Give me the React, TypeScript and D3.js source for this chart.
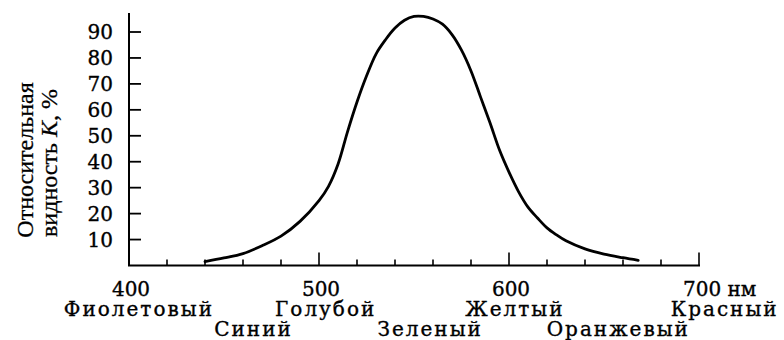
import React from "react";
import * as d3 from "d3";

const wavelengths = [440, 450, 460, 470, 480, 490, 500, 505, 510, 515, 520, 525, 530, 535, 540, 545, 550, 555, 560, 565, 570, 575, 580, 585, 590, 595, 600, 605, 610, 615, 620, 625, 630, 640, 650, 660, 668];
const visibility = [1.5, 2.9, 4.6, 7.6, 11.3, 17, 25, 30.5, 39, 51.5, 63, 73, 81.5, 87, 91.5, 94.5, 96, 96, 95, 93, 89, 83, 75, 65, 55, 44.5, 36, 28.5, 22.5, 18.3, 14.5, 11.8, 9.5, 6.4, 4.4, 3, 2];

const yTicks = [10, 20, 30, 40, 50, 60, 70, 80, 90];
const xMinorTicks = [420, 440, 460, 480, 520, 540, 560, 580, 620, 640, 660, 680];
const xMajorTicks = [500, 600, 700];
const xTickLabels = ["400", "500", "600", "700 нм"];
const xTickLabelValues = [400, 500, 600, 700];

const colorRow1 = ["Фиолетовый", "Голубой", "Желтый", "Красный"];
const colorRow1At = [404.7, 503, 602.6, 713];
const colorRow2 = ["Синий", "Зеленый", "Оранжевый"];
const colorRow2At = [465, 558, 657];

const FONT = "'DejaVu Serif', 'Liberation Serif', serif";
const TFONT = "'Liberation Serif', 'Times New Roman', serif";

export default function App() {
  const x = d3.scaleLinear().domain([400, 700]).range([129, 699]);
  const y = d3.scaleLinear().domain([0, 90]).range([265.5, 32]);
  const pts = wavelengths.map((w, i) => [w, visibility[i]] as [number, number]);
  const line = d3
    .line<[number, number]>()
    .x((d) => x(d[0]))
    .y((d) => y(d[1]))
    .curve(d3.curveCatmullRom.alpha(0.5));

  const txt = { fontFamily: FONT, fontSize: 20, fill: "#000", stroke: "#000", strokeWidth: 0.35 } as const;

  return (
    <div style={{ position: "fixed", left: 0, top: 0 }}>
      <svg width={784} height={340} style={{ display: "block", background: "#fff" }}>
        <line x1={x(400)} y1={y(0)} x2={x(400)} y2={13} stroke="#000" strokeWidth={2} />
        <line x1={x(400) - 1} y1={y(0)} x2={x(700) + 1} y2={y(0)} stroke="#000" strokeWidth={2} />
        {yTicks.map((t) => (
          <g key={"yt" + t}>
            <line x1={x(400)} x2={x(400) + 12} y1={y(t)} y2={y(t)} stroke="#000" strokeWidth={1.8} />
            <text x={113} y={y(t)} dy="0.36em" textAnchor="end" {...txt}>
              {t}
            </text>
          </g>
        ))}
        {xMinorTicks.map((t) => (
          <line key={"xm" + t} x1={x(t)} x2={x(t)} y1={y(0)} y2={y(0) - 6} stroke="#000" strokeWidth={1.6} />
        ))}
        {xMajorTicks.map((t) => (
          <line key={"xM" + t} x1={x(t)} x2={x(t)} y1={y(0)} y2={y(0) - 13} stroke="#000" strokeWidth={1.6} />
        ))}
        {xTickLabels.map((s, i) =>
          i === xTickLabels.length - 1 ? (
            <text key={s} x={x(xTickLabelValues[i]) - 16} y={296} textAnchor="start" {...txt}>
              {s}
            </text>
          ) : (
            <text key={s} x={x(xTickLabelValues[i]) + 2} y={296} textAnchor="middle" {...txt}>
              {s}
            </text>
          )
        )}
        {colorRow1.map((s, i) => (
          <text key={s} x={x(colorRow1At[i]) + 1} y={316} textAnchor="middle" letterSpacing={2} {...txt}>
            {s}
          </text>
        ))}
        {colorRow2.map((s, i) => (
          <text key={s} x={x(colorRow2At[i]) + 1} y={336} textAnchor="middle" letterSpacing={2} {...txt}>
            {s}
          </text>
        ))}
        <text transform="translate(33,160) rotate(-90)" textAnchor="middle" fontFamily={TFONT} fontSize={24} fill="#000" stroke="#000" strokeWidth={0.3}>
          Относительная
        </text>
        <text transform="translate(57,163) rotate(-90)" textAnchor="middle" fontFamily={TFONT} fontSize={24} fill="#000" stroke="#000" strokeWidth={0.3}>
          видность <tspan fontStyle="italic">K</tspan>, %
        </text>
        <path d={line(pts) || ""} fill="none" stroke="#000" strokeWidth={2.8} strokeLinecap="round" strokeLinejoin="round" />
      </svg>
    </div>
  );
}
